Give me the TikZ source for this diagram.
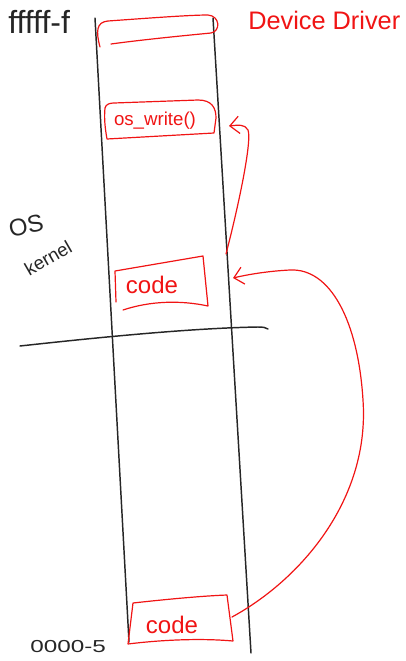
\documentclass[tikz,border=0pt]{standalone}
\usepackage{fontspec}
\setmainfont{Liberation Sans}
\usetikzlibrary{arrows.meta}
\definecolor{pen}{RGB}{240,20,20}
\tikzset{
  blackline/.style={line width=1.1pt, line cap=round, line join=round, black!85},
  redline/.style={line width=0.9pt, line cap=round, line join=round, pen},
  redarrow/.style={redline, -{Straight Barb[length=7pt,width=13pt]}},
  redtext/.style={text=pen, inner sep=0pt},
  blacktext/.style={text=black!85, inner sep=0pt}
}
\begin{document}
\begin{tikzpicture}[x=0.75pt,y=-0.75pt]
\useasboundingbox (0,0) rectangle (405,661);
% memory column
\coordinate (ltop) at (95,18);
\coordinate (lbot) at (129,642);
\coordinate (rtop) at (213,18);
\coordinate (rbot) at (251,653);
\draw[blackline] (ltop) -- (lbot);
\draw[blackline] (rtop) -- (rbot);
% divider
\coordinate (hl) at (20,346);
\coordinate (hr) at (268,329);
\draw[blackline] (hl) .. controls (120,335) and (200,328) .. (258,327) .. controls (263,327) and (266,327.5) .. (hr);
% top device driver box
\draw[redline] (100,47) .. controls (96,32) and (96,22) .. (108,21) .. controls (150,18) and (190,15) .. (208,15) .. controls (220,16) and (221,31) .. (211,33) .. controls (180,36) and (140,40) .. (111,44);
% os_write box
\draw[redline] (107,139) .. controls (105,128) and (104,118) .. (105,108) .. controls (106,104) and (110,103) .. (114,103) -- (198,100) .. controls (212,100) and (216,108) .. (216,118) -- (214,133) -- (107,139);
\node[redtext, font=\fontsize{14}{14}\selectfont] (oswrite) at (155,121) {os\_write()};
% code box 1
\draw[redline] (116,302) -- (115,271) -- (203,256) -- (208,306) .. controls (180,300) and (150,301) .. (123,310);
\node[redtext, font=\fontsize{18}{18}\selectfont] (code1) at (152,285) {code};
% code box 2
\draw[redline] (128,644) -- (133,603) .. controls (160,600) and (200,596) .. (227,595) -- (233,641) .. controls (200,638) and (160,640) .. (128,644);
\node[redtext, font=\fontsize{18}{18}\selectfont] (code2) at (172,625) {code};
% labels
\node[redtext, font=\fontsize{19}{19}\selectfont, anchor=west] (dd) at (248,20) {Device Driver};
\node[blacktext, font=\fontsize{24}{24}\selectfont, anchor=west] (ff) at (8,22) {fffff-f};
\node[blacktext, font=\fontsize{18}{18}\selectfont, rotate=12] (os) at (26,226) {OS};
\node[blacktext, font=\fontsize{14}{14}\selectfont, rotate=30] (kern) at (48,258) {kernel};
\node[blacktext, font=\fontsize{13}{13}\selectfont, anchor=west, xscale=1.4] (zero) at (30,647) {0000-5};
% arrows
\coordinate (a1s) at (226,254);
\coordinate (a1e) at (229,126);
\draw[redarrow] (a1s) .. controls (240,200) and (252,140) .. (248,130) .. controls (245,124) and (238,125) .. (a1e);
\coordinate (a2s) at (232,617);
\coordinate (a2e) at (233,278);
\draw[redarrow] (a2s) .. controls (300,580) and (370,500) .. (363,400) .. controls (358,320) and (330,268) .. (290,270) .. controls (270,271) and (250,274) .. (a2e);
\end{tikzpicture}
\end{document}
